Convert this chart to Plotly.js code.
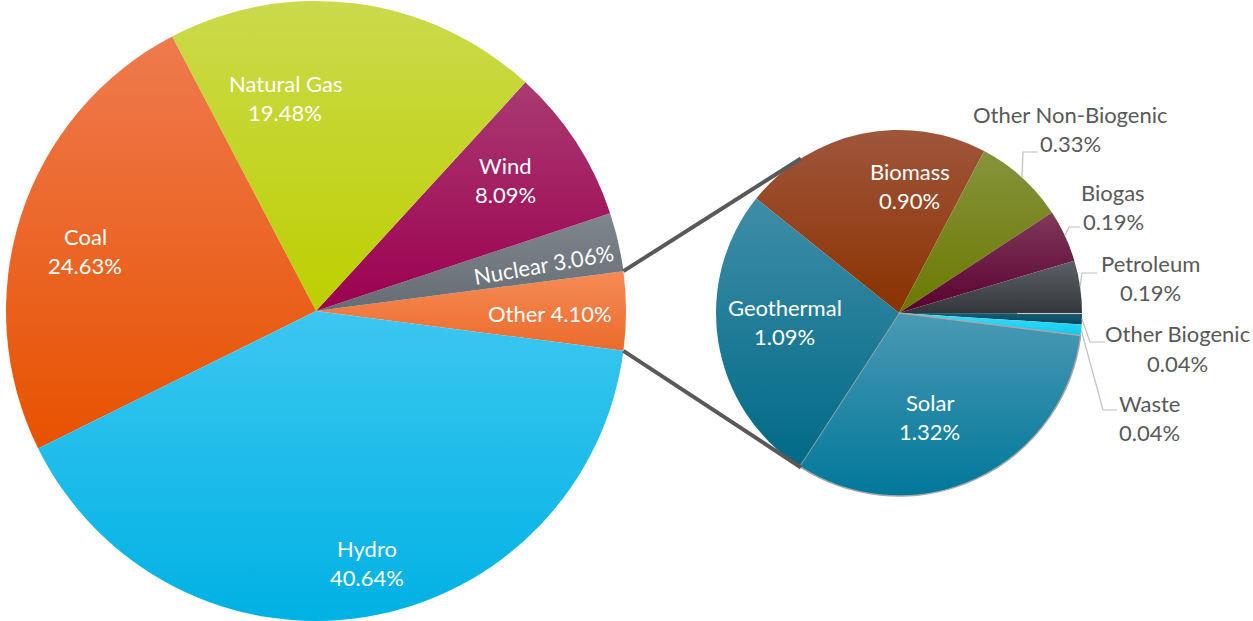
<!DOCTYPE html>
<html>
<head>
<meta charset="utf-8">
<script src="https://cdn.plot.ly/plotly-3.0.1.min.js"></script>
<style>
html, body { margin:0; padding:0; background:#ffffff; }
#chart { width:1253px; height:621px; }
</style>
</head>
<body>
<div id="chart"></div>
<script>
// ---------------- DATA ----------------
const mainLabels = ['Other', 'Nuclear', 'Wind', 'Natural Gas', 'Coal', 'Hydro'];
const mainValues = [4.10, 3.06, 8.09, 19.48, 24.63, 40.64];

const subLabels = ['Biomass', 'Other Non-Biogenic', 'Biogas', 'Petroleum', 'Other Biogenic', 'Waste', 'Solar', 'Geothermal'];
const subValues = [0.90, 0.33, 0.19, 0.19, 0.04, 0.04, 1.32, 1.09];

// ---------------- STYLE ----------------
const W = 1253, H = 621;
const FONT = 'Lato, "Open Sans", sans-serif';
const FS = 22;
const LINE_GAP = 29;   // px between the two lines of a label
const mainGeo = { cx: 316, cy: 311, r: 310 };
const subGeo  = { cx: 899, cy: 313, r: 183 };
const subRotation = -51.3;
const connAngle = -32.4; // where the connector meets the secondary pie (mirrored below)

const mainTop = ['#F68C55', '#7F868D', '#AA3A72', '#CBDA4C', '#EF7A4E', '#3CC7F1'];
const mainBot = ['#EB6A2C', '#656C74', '#9B0050', '#BDCF00', '#E75200', '#00B1E3'];
const mainMid = ['#F27A40', '#6F767E', '#A0005C', '#C4D500', '#EE6218', '#14C0F0'];

const subTop = ['#A0563C', '#86933C', '#80395B', '#5D6165', '#1E5C72', '#3ADFF9', '#4A99B4', '#3F8DA8'];
const subBot = ['#8A3200', '#6B7900', '#580030', '#33373B', '#00475A', '#0FC8F0', '#00789A', '#006A86'];
const subMid = ['#923D14', '#788610', '#690838', '#44484C', '#0F4E66', '#20D4F4', '#1F8BAF', '#13718F'];

// label placement (style): [radius fraction, angle shift in degrees] for inside labels
const mainLabelPolar = [[0.755, 0.7], [0.748, 1.2], [0.743, -1.8], [0.693, -15.7], [0.770, -3.4], [0.828, -2.0]];
const mainSingleLine = [true, true, false, false, false, false];
const mainTextAngle  = [0, -10, 0, 0, 0, 0];

const subInside = [true, false, false, false, false, false, true, true];
const subLabelPolar = [[0.697, 16.7], null, null, null, null, null, [0.593, 8.4], [0.625, 4.7]];
// outside labels: block centre in px, and leader elbow/end in px
const subOutsidePos = [null, [1070, 129], [1113, 207], [1150, 278], [1177, 348.5], [1149, 417.5], null, null];
const subLeader = [null, [[1023, 152], [1038, 152]], [[1069, 227], [1080, 227]], [[1082, 273], [1097, 273]],
                   [[1090, 342], [1105, 342]], [[1103, 410], [1117, 410]], null, null];

// ---------------- helpers ----------------
const px2x = p => p / W;
const py2y = p => 1 - p / H;
const sum = a => a.reduce((s, v) => s + v, 0);
const rad = d => d * Math.PI / 180;
function polar(geo, angDeg, rf) {
  return [geo.cx + geo.r * rf * Math.sin(rad(angDeg)), geo.cy - geo.r * rf * Math.cos(rad(angDeg))];
}
function domainOf(geo) {
  return {
    x: [(geo.cx - geo.r) / W, (geo.cx + geo.r) / W],
    y: [Math.max(0, (H - geo.cy - geo.r) / H), Math.min(1, (H - geo.cy + geo.r) / H)]
  };
}

// slice angles (clockwise from 12 o'clock)
const mainTot = sum(mainValues);
const mainSpan = mainValues.map(v => v / mainTot * 360);
const mainRotation = 90 - mainSpan[0] / 2;   // "Other" centred on 3 o'clock
const mainMidAng = [];
{
  // counterclockwise: first slice covers [rot, rot+a0], following slices go counterclockwise
  let hi = mainRotation + mainSpan[0];
  for (let i = 0; i < mainValues.length; i++) {
    const lo = hi - mainSpan[i];
    mainMidAng.push((hi + lo) / 2);
    hi = lo;
  }
}
const subTot = sum(subValues);
const subSpan = subValues.map(v => v / subTot * 360);
const subMidAng = [];
{
  let a = subRotation;
  for (let i = 0; i < subValues.length; i++) {
    subMidAng.push(a + subSpan[i] / 2);
    a += subSpan[i];
  }
}
const pct = v => v.toFixed(2) + '%';

// ---------------- traces ----------------
const mainTrace = {
  type: 'pie', labels: mainLabels, values: mainValues, sort: false,
  direction: 'counterclockwise', rotation: mainRotation,
  domain: domainOf(mainGeo),
  marker: { colors: mainMid, line: { width: 0 } },
  textinfo: 'none', hoverinfo: 'label+value', showlegend: false
};
const subTrace = {
  type: 'pie', labels: subLabels, values: subValues, sort: false,
  direction: 'clockwise', rotation: subRotation,
  domain: domainOf(subGeo),
  marker: { colors: subMid,
            line: { width: subLabels.map(l => l === 'Solar' ? 1.5 : 0),
                    color: subLabels.map(l => l === 'Solar' ? '#A6A6A6' : 'rgba(0,0,0,0)') } },
  textinfo: 'none', hoverinfo: 'label+value', showlegend: false
};

// ---------------- annotations ----------------
const annotations = [];
function addText(xp, yp, text, color, angle) {
  annotations.push({
    xref: 'paper', yref: 'paper', x: px2x(xp), y: py2y(yp), text: text,
    showarrow: false, xanchor: 'center', yanchor: 'middle', textangle: angle || 0,
    font: { family: FONT, size: FS, color: color }
  });
}
mainLabels.forEach((lab, i) => {
  const [rf, dA] = mainLabelPolar[i];
  const [x, y] = polar(mainGeo, mainMidAng[i] + dA, rf);
  if (mainSingleLine[i]) {
    addText(x, y, lab + ' ' + pct(mainValues[i]), '#FFFFFF', mainTextAngle[i]);
  } else {
    addText(x, y - LINE_GAP / 2, lab, '#FFFFFF');
    addText(x, y + LINE_GAP / 2, pct(mainValues[i]), '#FFFFFF');
  }
});

const shapes = [];
subLabels.forEach((lab, i) => {
  if (subInside[i]) {
    const [rf, dA] = subLabelPolar[i];
    const [x, y] = polar(subGeo, subMidAng[i] + dA, rf);
    addText(x, y - LINE_GAP / 2, lab, '#FFFFFF');
    addText(x, y + LINE_GAP / 2, pct(subValues[i]), '#FFFFFF');
  } else {
    const [x, y] = subOutsidePos[i];
    addText(x, y - LINE_GAP / 2, lab, '#595959');
    addText(x, y + LINE_GAP / 2, pct(subValues[i]), '#595959');
    const s = polar(subGeo, subMidAng[i], 1.0);
    const [e1, e2] = subLeader[i];
    shapes.push({
      type: 'path', xref: 'paper', yref: 'paper',
      path: `M ${px2x(s[0])},${py2y(s[1])} L ${px2x(e1[0])},${py2y(e1[1])} L ${px2x(e2[0])},${py2y(e2[1])}`,
      line: { color: '#BFBFBF', width: 1.2 }
    });
  }
});

// connector lines between the "Other" slice and the secondary pie
{
  const otherHi = mainRotation + mainSpan[0];
  const m1 = polar(mainGeo, mainRotation, 1.0);
  const m2 = polar(mainGeo, otherHi, 1.0);
  const s1 = polar(subGeo, connAngle, 1.0);
  const s2 = polar(subGeo, 180 - connAngle, 1.0);
  [[m1, s1], [m2, s2]].forEach(([a, b]) => {
    shapes.push({
      type: 'line', xref: 'paper', yref: 'paper',
      x0: px2x(a[0]), y0: py2y(a[1]), x1: px2x(b[0]), y1: py2y(b[1]),
      line: { color: '#595959', width: 4 }
    });
  });
}

const layout = {
  width: W, height: H,
  margin: { l: 0, r: 0, t: 0, b: 0, pad: 0 },
  paper_bgcolor: '#FFFFFF', plot_bgcolor: '#FFFFFF',
  showlegend: false,
  font: { family: FONT },
  annotations: annotations,
  shapes: shapes
};

Plotly.newPlot('chart', [mainTrace, subTrace], layout, { staticPlot: true, displayModeBar: false }).then(gd => {
  // vertical gradients on each slice, like the original's shading
  const svg = gd.querySelector('svg.main-svg');
  const NS = 'http://www.w3.org/2000/svg';
  let defs = svg.querySelector('defs');
  if (!defs) { defs = document.createElementNS(NS, 'defs'); svg.insertBefore(defs, svg.firstChild); }
  const sets = [[mainTop, mainBot], [subTop, subBot]];
  const traces = gd.querySelectorAll('.pielayer .trace');
  traces.forEach((tr, t) => {
    const [tops, bots] = sets[t];
    tr.querySelectorAll('g.slice path.surface').forEach((p, i) => {
      const id = 'grad_' + t + '_' + i;
      const g = document.createElementNS(NS, 'linearGradient');
      g.setAttribute('id', id);
      g.setAttribute('x1', '0'); g.setAttribute('y1', '0');
      g.setAttribute('x2', '0'); g.setAttribute('y2', '1');
      [[0, tops[i]], [1, bots[i]]].forEach(([o, c]) => {
        const st = document.createElementNS(NS, 'stop');
        st.setAttribute('offset', o);
        st.setAttribute('stop-color', c);
        g.appendChild(st);
      });
      defs.appendChild(g);
      p.style.fill = 'url(#' + id + ')';
    });
  });
});
</script>
</body>
</html>
